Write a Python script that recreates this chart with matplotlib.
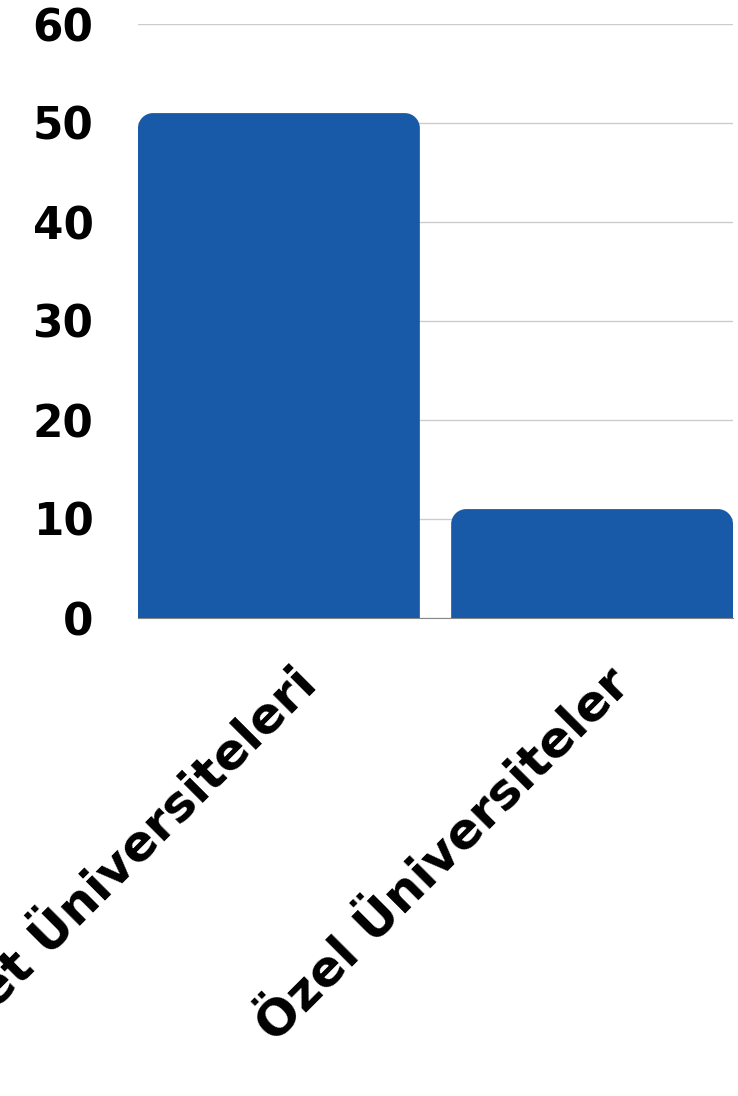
import numpy as np
import matplotlib
matplotlib.use('Agg')
import matplotlib.pyplot as plt
import matplotlib.transforms as mtransforms
from matplotlib.path import Path
from matplotlib.patches import PathPatch

# data
categories = ['Devlet Üniversiteleri', 'Özel Üniversiteler']
values = [51, 11]
yticks = [0, 10, 20, 30, 40, 50, 60]

plt.rcParams['font.family'] = ['DejaVu Sans']

fig = plt.figure(figsize=(7.38, 10.96), dpi=100)
ax = fig.add_axes([138/738, 478/1096, 595/738, 594/1096])

x = np.arange(len(categories))
width = 0.9
bars = ax.bar(x, values, width=width, color='none', edgecolor='none')

ax.set_xlim(-0.45, 1.45)
ax.set_ylim(0, 60)

# rounded top corners: radius in pixels -> data units
r_px = 15
px_x = 595 / 1.9
px_y = 594 / 60
rx = r_px / px_x
ry = r_px / px_y
k = 0.5523
for b in bars:
    x0 = b.get_x()
    x1 = x0 + b.get_width()
    h = b.get_height()
    verts = [(x0, 0), (x0, h - ry),
             (x0, h - ry + k * ry), (x0 + rx - k * rx, h), (x0 + rx, h),
             (x1 - rx, h),
             (x1 - rx + k * rx, h), (x1, h - ry + k * ry), (x1, h - ry),
             (x1, 0), (x0, 0)]
    codes = [Path.MOVETO, Path.LINETO,
             Path.CURVE4, Path.CURVE4, Path.CURVE4,
             Path.LINETO,
             Path.CURVE4, Path.CURVE4, Path.CURVE4,
             Path.LINETO, Path.CLOSEPOLY]
    ax.add_patch(PathPatch(Path(verts, codes), facecolor='#1859a8',
                           edgecolor='none', zorder=3))

ax.set_yticks(yticks)
ax.set_yticklabels([str(t) for t in yticks], fontsize=31.5, fontweight='bold')
ax.grid(axis='y', color='#cccccc', linewidth=1)
ax.set_axisbelow(True)

ax.set_xticks(x)
ax.set_xticklabels(categories, fontsize=36, fontweight='bold',
                   rotation=45, ha='right', rotation_mode='anchor')

for s in ['top', 'right', 'left']:
    ax.spines[s].set_visible(False)
ax.spines['bottom'].set_color('#888888')
ax.tick_params(axis='both', length=0)
ax.tick_params(axis='y', pad=32)
ax.tick_params(axis='x', pad=30)

# shift x labels to the right a bit
offset = mtransforms.ScaledTranslation(0.13, 0, fig.dpi_scale_trans)
for lbl in ax.get_xticklabels():
    lbl.set_transform(lbl.get_transform() + offset)

fig.savefig('out.png', dpi=100)
